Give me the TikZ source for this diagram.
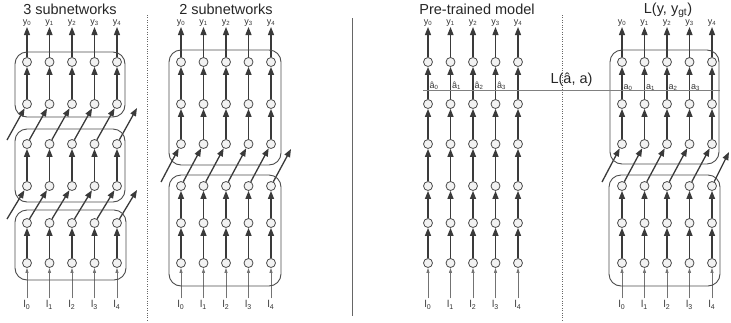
\documentclass[tikz,border=0pt]{standalone}
\usepackage{fontspec}
\setmainfont{Liberation Sans}
\usetikzlibrary{arrows.meta, calc}

\definecolor{wire}{HTML}{3A3A3A}

\begin{document}
\begin{tikzpicture}[x=1pt, y=-1pt, >={Triangle[length=8pt, width=6pt]},
    neuron/.style={circle, draw=black!70, fill=black!5, line width=0.8pt, minimum size=9pt, inner sep=0pt},
    flow/.style={->, draw=wire, line width=1.3pt},
    feed/.style={-{Triangle[length=5pt, width=3pt]}, draw=black!55, line width=0.7pt},
    subnet/.style={draw=black!70, line width=0.9pt, rounded corners=12pt},
    title/.style={text=black!85, inner sep=0pt, font=\fontsize{14.5}{16}\selectfont},
    outlbl/.style={text=black!80, font=\fontsize{9}{10}\selectfont, inner sep=0.5pt},
    inlbl/.style={text=black!80, font=\fontsize{10}{11}\selectfont, inner sep=2pt}]
    \useasboundingbox (0,0) rectangle (731,322);

    % Panels: a = 3 subnetworks, b = 2 subnetworks, c = pre-trained, d = student
    % Nodes named <panel><row><column>
    \foreach \p/\x in {a/27, b/181, c/428, d/622}{
        \foreach \r/\y in {1/62, 2/104, 3/144, 4/186, 5/223, 6/263}{
            \foreach \c in {0,...,4}
                \node[neuron] (\p\r\c) at (\x+22.5*\c, \y) {};
        }
        \foreach \c in {0,...,4}{
            \node[outlbl] (\p y\c) at (\x+22.5*\c, 23) {y\textsubscript{\c}};
            \node[inlbl] (\p l\c) at (\x+22.5*\c, 305) {l\textsubscript{\c}};
            \draw[flow] (\p1\c) -- (\p y\c);
            \draw[feed] (\p l\c) -- (\p6\c);
        }
    }

    % Vertical links inside each subnetwork
    \foreach \c in {0,...,4}{
        \foreach \lo/\hi in {2/1, 4/3, 6/5}
            \draw[flow] (a\lo\c) -- (a\hi\c);
        \foreach \lo/\hi in {2/1, 3/2, 5/4, 6/5}{
            \draw[flow] (b\lo\c) -- (b\hi\c);
            \draw[flow] (d\lo\c) -- (d\hi\c);
        }
        \foreach \lo/\hi in {2/1, 3/2, 4/3, 5/4, 6/5}
            \draw[flow] (c\lo\c) -- (c\hi\c);
    }

    % Shifted links between subnetworks
    \foreach \c [evaluate=\c as \n using int(\c+1)] in {0,...,3}{
        \draw[flow] (a3\c) -- (a2\n);
        \draw[flow] (a5\c) -- (a4\n);
        \draw[flow] (b4\c) -- (b3\n);
        \draw[flow] (d4\c) -- (d3\n);
    }
    \coordinate (a-in1) at (7,140);
    \coordinate (a-out1) at (137,108);
    \coordinate (a-in2) at (7,219);
    \coordinate (a-out2) at (137,190);
    \coordinate (b-in) at (161,182);
    \coordinate (b-out) at (291,149);
    \coordinate (d-in) at (602,182);
    \coordinate (d-out) at (729,152);
    \draw[flow] (a-in1) -- (a20);
    \draw[flow] (a34) -- (a-out1);
    \draw[flow] (a-in2) -- (a40);
    \draw[flow] (a54) -- (a-out2);
    \draw[flow] (b-in) -- (b30);
    \draw[flow] (b44) -- (b-out);
    \draw[flow] (d-in) -- (d30);
    \draw[flow] (d44) -- (d-out);

    % Subnetwork boxes
    \draw[subnet] ($(a10)+(-12,-10)$) rectangle ($(a24)+(8,13)$);
    \draw[subnet] ($(a30)+(-12,-15)$) rectangle ($(a44)+(8,16)$);
    \draw[subnet] ($(a50)+(-12,-13)$) rectangle ($(a64)+(9,17)$);
    \draw[subnet] ($(b10)+(-12,-12)$) rectangle ($(b34)+(10,21)$);
    \draw[subnet] ($(b40)+(-12,-11)$) rectangle ($(b64)+(10,23)$);
    \draw[subnet] ($(d10)+(-12,-12)$) rectangle ($(d34)+(7,20)$);
    \draw[subnet] ($(d40)+(-13,-11)$) rectangle ($(d64)+(8,23)$);

    % Separators
    \draw[dotted, black!60] (147,15) -- (147,322);
    \draw[black!60, line width=0.8pt] (352,18) -- (352,316);
    \draw[dotted, black!60] (562,15) -- (562,322);

    % Distillation loss
    \coordinate (loss-l) at (423,90);
    \coordinate (loss-r) at (720,90);
    \draw[black!50, line width=1pt] (loss-l) -- node[above=3pt, title] (loss) {L(â, a)} (loss-r);
    \foreach \c in {0,...,3}{
        \node[outlbl, anchor=base west] (c-a\c) at (429+22.5*\c, 88) {â\textsubscript{\c}};
        \node[outlbl, anchor=base west] (d-a\c) at (623+22.5*\c, 89) {a\textsubscript{\c}};
    }

    % Titles
    \node[title] (t-three) at (70,9) {3 subnetworks};
    \node[title] (t-two) at (226,9) {2 subnetworks};
    \node[title] (t-pre) at (477,9) {Pre-trained model};
    \node[title] (t-loss) at (668,10) {L(y, y\textsubscript{gt})};

\end{tikzpicture}
\end{document}
